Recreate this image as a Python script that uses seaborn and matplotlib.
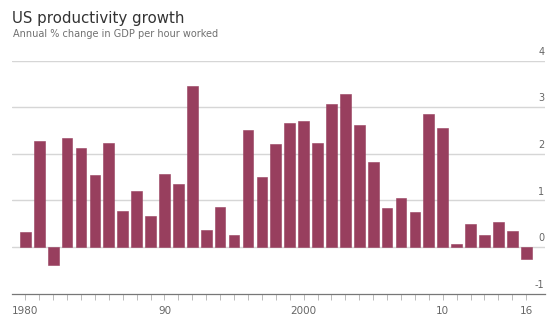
import matplotlib
matplotlib.use("Agg")
import matplotlib.pyplot as plt
import seaborn as sns
import pandas as pd

years = list(range(1980, 2017))
growth = [0.32, 2.27, -0.39, 2.34, 2.13, 1.55, 2.24, 0.78, 1.19, 0.67,
          1.57, 1.34, 3.46, 0.37, 0.86, 0.26, 2.50, 1.49, 2.21, 2.66,
          2.70, 2.24, 3.07, 3.29, 2.62, 1.83, 0.84, 1.04, 0.75, 2.85,
          2.55, 0.06, 0.49, 0.26, 0.53, 0.34, -0.25]
tick_years = [1980, 1990, 2000, 2010, 2016]
tick_labels = ["1980", "90", "2000", "10", "16"]
y_levels = [-1, 0, 1, 2, 3, 4]

df = pd.DataFrame({"year": [str(y) for y in years], "growth": growth})

sns.set_style("white")
plt.rcParams["font.family"] = ["DejaVu Sans"]

fig = plt.figure(figsize=(5.5, 3.24), dpi=100)
ax = fig.add_axes([12/550, 1-293.5/324, (545-12)/550, (293.5-60.5)/324])

sns.barplot(data=df, x="year", y="growth", color="#983f5e", width=0.77,
            saturation=1, ax=ax, zorder=3, edgecolor="#983f5e", linewidth=0.4)

xmin, xmax = -0.96, 37.35
ax.set_xlim(xmin, xmax)
ax.set_ylim(-1, 4)

for v in y_levels:
    if v == -1:
        continue
    ax.axhline(v, color="#d6d6d6", lw=1.0, zorder=1)
for v in y_levels:
    ax.text(xmax - 0.05, v + 0.08, str(v), ha="right", va="bottom",
            fontsize=7, color="#666666")

for s in ["top", "right", "left"]:
    ax.spines[s].set_visible(False)
ax.spines["bottom"].set_color("#777777")
ax.spines["bottom"].set_linewidth(0.9)
ax.spines["bottom"].set_position(("data", -1))

ax.set_yticks([])
ax.set_xticks(range(len(years)))
ax.set_xticklabels([tick_labels[tick_years.index(y)] if y in tick_years else "" for y in years])
ax.tick_params(axis="x", length=4, width=0.6, color="#b0b0b0", labelsize=7.5,
               labelcolor="#666666", pad=5, bottom=True)
ax.set_xlabel("")
ax.set_ylabel("")

fig.text(12/550, 1-18/324, "US productivity growth", fontsize=10.8, color="#333333",
         ha="left", va="center")
fig.text(13/550, 1-34/324, "Annual % change in GDP per hour worked", fontsize=7,
         color="#707070", ha="left", va="center")

fig.savefig("out.png", dpi=100, facecolor="white")
